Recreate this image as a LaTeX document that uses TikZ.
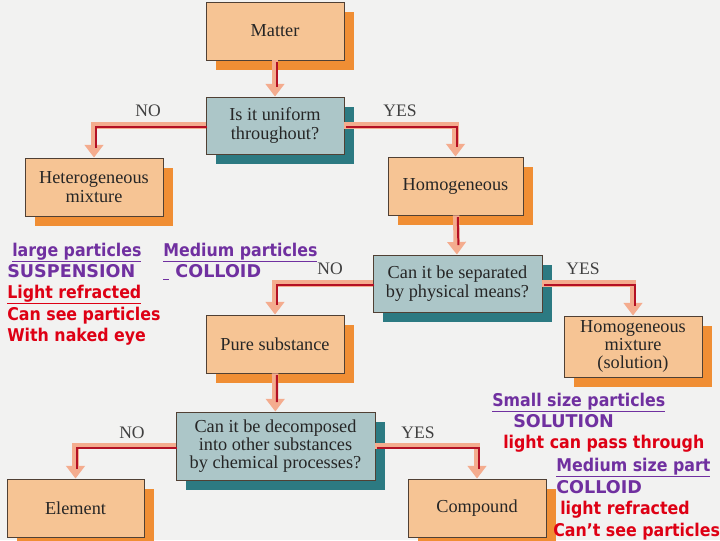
\documentclass[tikz,border=0pt]{standalone}
\usepackage{fontspec}
\setmainfont{Liberation Serif}
\newfontfamily\notefont{DejaVu Sans}[FakeStretch=0.9]
\newfontfamily\capsfont{DejaVu Sans}
\usetikzlibrary{arrows.meta,shadows}
\definecolor{bgpaper}{RGB}{242,242,241}
\definecolor{boxpeach}{RGB}{246,196,148}
\definecolor{boxorange}{RGB}{240,142,52}
\definecolor{boxteal}{RGB}{172,198,200}
\definecolor{boxtealdk}{RGB}{44,122,130}
\definecolor{boxline}{RGB}{80,64,52}
\definecolor{arrpink}{RGB}{244,172,142}
\definecolor{arrred}{RGB}{180,16,36}
\definecolor{notepurple}{RGB}{112,48,160}
\definecolor{notered}{RGB}{222,0,20}
\tikzset{
  boxbase/.style={draw=boxline, line width=0.6pt, inner sep=0pt, align=center, text=black!85, font=\fontsize{13}{13}\selectfont},
  stepbox/.style={boxbase, fill=boxpeach, general shadow={fill=boxorange, shadow xshift=7pt, shadow yshift=-7pt}},
  askbox/.style={boxbase, fill=boxteal, general shadow={fill=boxtealdk, shadow xshift=7pt, shadow yshift=-7pt}},
  flow/.style={draw=arrpink, line width=4.5pt, -{Triangle[length=9pt,width=13pt]},
    postaction={draw=arrred, line width=1.4pt, -, shorten >=8pt, transform canvas={shift={(1.2pt,-1.2pt)}}}},
  answer/.style={inner sep=0pt, text=black!75, font=\fontsize{12.5}{13}\selectfont},
  note/.style={inner sep=0pt, anchor=base west, font=\notefont\bfseries\fontsize{12.5}{15}\selectfont},
  capsnote/.style={note, font=\capsfont\bfseries\fontsize{12.5}{15}\selectfont},
}

\begin{document}
\begin{tikzpicture}[x=0.025cm, y=-0.025cm]
\useasboundingbox (0,0) rectangle (720,540);
\fill[bgpaper] (0,0) rectangle (720,540);
% boxes
\node[stepbox, minimum width=3.45cm, minimum height=1.45cm] (matter) at (275,31) {Matter};
\node[askbox, minimum width=3.45cm, minimum height=1.425cm] (uniform) at (275,125.5) {Is it uniform\\throughout?};
\node[stepbox, minimum width=3.45cm, minimum height=1.45cm] (hetero) at (94,187) {Heterogeneous\\mixture};
\node[stepbox, minimum width=3.375cm, minimum height=1.45cm] (homog) at (455.5,186) {Homogeneous};
\node[askbox, minimum width=4.225cm, minimum height=1.425cm] (separate) at (457.5,283.5) {Can it be separated\\by physical means?};
\node[stepbox, minimum width=3.45cm, minimum height=1.45cm] (pure) at (275,344) {Pure substance};
\node[stepbox, minimum width=3.45cm, minimum height=1.525cm] (solution) at (633,346.5) {Homogeneous\\mixture\\(solution)};
\node[askbox, minimum width=4.975cm, minimum height=1.7cm] (decompose) at (275.5,446) {Can it be decomposed\\into other substances\\by chemical processes?};
\node[stepbox, minimum width=3.425cm, minimum height=1.45cm] (element) at (75.5,508) {Element};
\node[stepbox, minimum width=3.45cm, minimum height=1.45cm] (compound) at (477,508) {Compound};
% connectors
\draw[flow] (matter) -- (uniform);
\draw[flow] (uniform.west) -| (hetero.north);
\draw[flow] (uniform.east) -| (homog.north);
\draw[flow] (homog) -- (separate);
\draw[flow] (separate.west) -| (pure.north);
\draw[flow] (separate.east) -| (solution.north);
\draw[flow] (pure) -- (decompose);
\draw[flow] (decompose.west) -| (element.north);
\draw[flow] (decompose.east) -| (compound.north);
% yes / no
\node[answer] (no1) at (148,111) {NO};
\node[answer] (yes1) at (400,111) {YES};
\node[answer] (no2) at (330,269) {NO};
\node[answer] (yes2) at (583,269) {YES};
\node[answer] (no3) at (132,433) {NO};
\node[answer] (yes3) at (418,433) {YES};
% notes, left
\node[note, text=notepurple] (largep) at (12,256) {\underline{large particles}};
\node[capsnote, text=notepurple] (susp) at (7,277) {SUSPENSION};
\node[note, text=notered] (lightr) at (7,298) {\underline{Light refracted}};
\node[note, text=notered] (cansee) at (7,320) {Can see particles};
\node[note, text=notered] (naked) at (7,341) {With naked eye};
\node[note, text=notepurple] (mediump) at (163,256) {\underline{Medium particles}};
\node[capsnote, text=notepurple] (colloida) at (163,277) {\underline{\phantom{i}} COLLOID};
% notes, right
\node[note, text=notepurple] (smallp) at (492,406) {\underline{Small size particles}};
\node[capsnote, text=notepurple] (soltxt) at (513,427) {SOLUTION};
\node[note, text=notered] (lightp) at (503,448) {light can pass through};
\node[note, text=notepurple] (mediums) at (556,471) {\underline{Medium size part}};
\node[capsnote, text=notepurple] (colloidb) at (556,493) {COLLOID};
\node[note, text=notered] (lightr2) at (560,514) {light refracted};
\node[note, text=notered] (cantsee) at (553,536) {Can’t see particles};
\end{tikzpicture}
\end{document}
